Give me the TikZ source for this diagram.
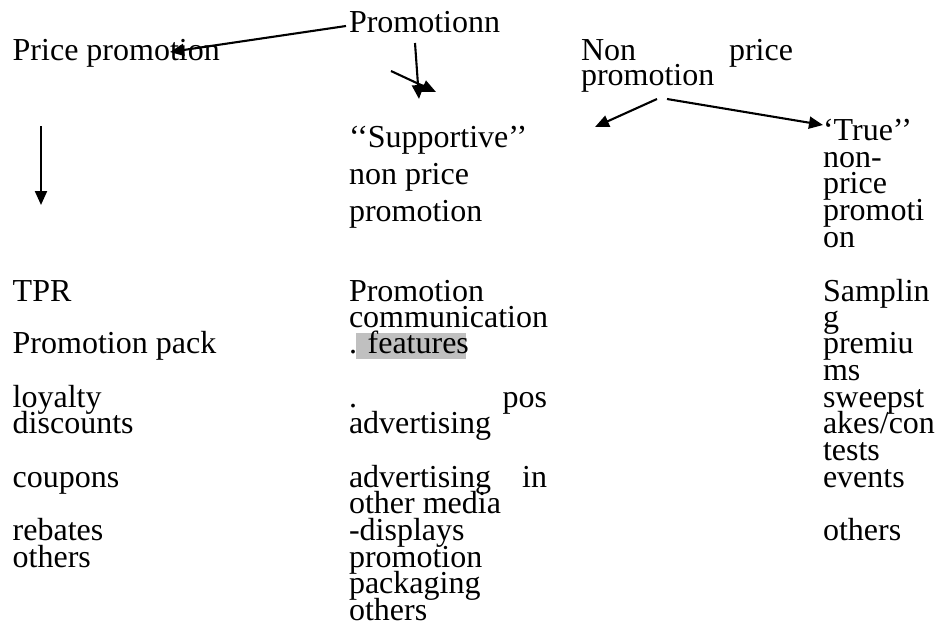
\documentclass[tikz,border=0pt]{standalone}
\usepackage{fontspec}
\setmainfont{Liberation Serif}
\usetikzlibrary{arrows.meta}
\definecolor{hlgray}{RGB}{192,192,192}
\tikzset{
  txt/.style={anchor=base west, inner sep=0pt, outer sep=0pt, font=\fontsize{32}{26.7}\selectfont},
  conn/.style={line width=2.1pt, -{Triangle[length=14pt,width=12pt]}},
  hl/.style={fill=hlgray, draw=none}
}
\begin{document}
\begin{tikzpicture}[x=1pt,y=-1pt]
\useasboundingbox (0,0) rectangle (936,623);
% highlight behind "features"
\fill[hl] (356,333) rectangle (466,359);
% top level
\node[txt] (promo) at (349,33) {Promotionn};
\node[txt] (price) at (12.7,61) {Price promotion};
\node[txt] (nonprice1) at (581,61) {\hbox to 212pt{Non\hfill price}};
\node[txt] (nonprice2) at (581,86) {promotion};
% supportive
\node[txt] (sup1) at (349,147) {‘‘Supportive’’};
\node[txt] (sup2) at (349,184) {non price};
\node[txt] (sup3) at (349,221) {promotion};
% true
\node[txt] (tr1) at (823,140) {‘True’’};
\node[txt] (tr2) at (823,167) {non-};
\node[txt] (tr3) at (823,193) {price};
\node[txt] (tr4) at (823,220) {promoti};
\node[txt] (tr5) at (823,247) {on};
% left column
\node[txt] (l1) at (12.7,301) {TPR};
\node[txt] (l2) at (12.7,353) {Promotion pack};
\node[txt] (l3) at (12.7,407) {loyalty};
\node[txt] (l4) at (12.7,433) {discounts};
\node[txt] (l5) at (12.7,487) {coupons};
\node[txt] (l6) at (12.7,540) {rebates};
\node[txt] (l7) at (12.7,567) {others};
% middle column
\node[txt] (m1) at (349,301) {Promotion};
\node[txt] (m2) at (349,327) {communication};
\node[txt] (m3) at (349,353) {. features};
\node[txt] (m4) at (349,407) {\hbox to 198pt{.\hfill pos}};
\node[txt] (m5) at (349,433) {advertising};
\node[txt] (m6) at (349,487) {\hbox to 198pt{advertising\hfill in}};
\node[txt] (m7) at (349,513) {other media};
\node[txt] (m8) at (349,540) {-displays};
\node[txt] (m9) at (349,567) {promotion};
\node[txt] (m10) at (349,593) {packaging};
\node[txt] (m11) at (349,620) {others};
% right column
\node[txt] (r1) at (823,301) {Samplin};
\node[txt] (r2) at (823,327) {g};
\node[txt] (r3) at (823,353) {premiu};
\node[txt] (r4) at (823,380) {ms};
\node[txt] (r5) at (823,407) {sweepst};
\node[txt] (r6) at (823,433) {akes/con};
\node[txt] (r7) at (823,460) {tests};
\node[txt] (r8) at (823,487) {events};
\node[txt] (r9) at (823,540) {others};
% arrow end points
\coordinate (a1s) at (346,26);
\coordinate (a1e) at (170,52);
\coordinate (a2s) at (415,43);
\coordinate (a2e) at (419,99);
\coordinate (a3s) at (391,71);
\coordinate (a3e) at (436,92);
\coordinate (a4s) at (41,126);
\coordinate (a4e) at (41,205);
\coordinate (a5s) at (657,99);
\coordinate (a5e) at (595,127);
\coordinate (a6s) at (667,99);
\coordinate (a6e) at (823,125);
\draw[conn] (a1s) -- (a1e);
\draw[conn] (a2s) -- (a2e);
\draw[conn] (a3s) -- (a3e);
\draw[conn] (a4s) -- (a4e);
\draw[conn] (a5s) -- (a5e);
\draw[conn] (a6s) -- (a6e);
\end{tikzpicture}
\end{document}
